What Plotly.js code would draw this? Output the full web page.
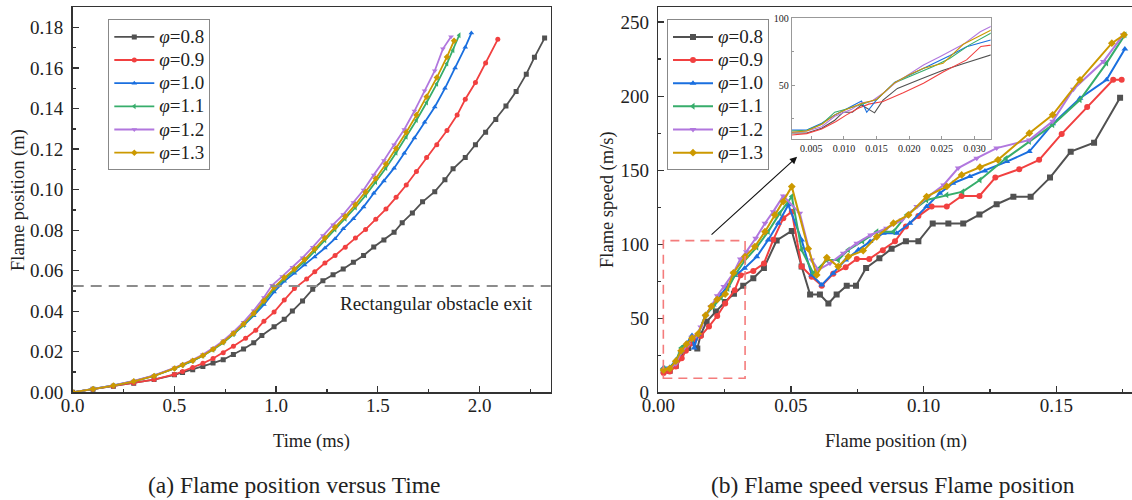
<!DOCTYPE html>
<html>
<head>
<meta charset="utf-8">
<script src="https://cdn.plot.ly/plotly-3.0.1.min.js"></script>
<style>
html,body{margin:0;padding:0;overflow:hidden;background:#fff;}
#chart{width:1140px;height:500px;}
</style>
</head>
<body>
<div id="chart"></div>
<script>
// ---------- data ----------
const seriesNames = ['<i>φ</i>=0.8','<i>φ</i>=0.9','<i>φ</i>=1.0','<i>φ</i>=1.1','<i>φ</i>=1.2','<i>φ</i>=1.3'];

// (a) flame position (m) vs time (ms)
const time08 = [0,0.1,0.2,0.3,0.4,0.5,0.54,0.59,0.64,0.69,0.74,0.79,0.84,0.89,0.93,0.99,1.04,1.08,1.13,1.18,1.23,1.28,1.33,1.38,1.43,1.48,1.53,1.58,1.62,1.67,1.72,1.78,1.83,1.87,1.93,1.98,2.03,2.08,2.13,2.18,2.23,2.27,2.32];
const pos08  = [0,0.0015,0.003,0.0045,0.0063,0.0086,0.0098,0.0111,0.0127,0.0144,0.0161,0.0186,0.0214,0.0244,0.028,0.0323,0.036,0.0401,0.0451,0.0509,0.055,0.058,0.0608,0.0642,0.0675,0.0717,0.0752,0.079,0.0837,0.0885,0.094,0.099,0.1049,0.1103,0.1159,0.1222,0.1283,0.1346,0.1413,0.1484,0.157,0.1653,0.1748];
const time09 = [0,0.1,0.2,0.3,0.4,0.5,0.54,0.59,0.64,0.69,0.74,0.79,0.85,0.9,0.94,0.99,1.04,1.09,1.15,1.19,1.24,1.29,1.34,1.39,1.44,1.49,1.54,1.59,1.64,1.69,1.74,1.79,1.84,1.89,1.93,1.98,2.03,2.09];
const pos09  = [0,0.0015,0.003,0.0046,0.0063,0.0088,0.0103,0.0122,0.0143,0.0167,0.0195,0.0227,0.0267,0.0306,0.0351,0.0396,0.0455,0.0512,0.0559,0.0595,0.0638,0.0675,0.0716,0.0761,0.0804,0.0854,0.0904,0.0962,0.1023,0.109,0.1159,0.1222,0.1292,0.1368,0.1446,0.1529,0.1625,0.1742];
const time10 = [0,0.1,0.2,0.3,0.4,0.5,0.54,0.59,0.64,0.69,0.74,0.79,0.84,0.89,0.94,0.99,1.04,1.09,1.14,1.19,1.24,1.29,1.33,1.38,1.43,1.48,1.53,1.58,1.63,1.68,1.73,1.78,1.83,1.88,1.93,1.96];
const pos10  = [0,0.0017,0.0034,0.0055,0.0082,0.0118,0.0135,0.0155,0.0182,0.0213,0.0248,0.0287,0.033,0.0378,0.0433,0.0495,0.0548,0.0588,0.0628,0.0668,0.0712,0.0758,0.0807,0.0857,0.0915,0.0982,0.1043,0.1106,0.118,0.1255,0.1333,0.1408,0.15,0.16,0.1703,0.1773];
const time11 = [0,0.1,0.2,0.3,0.4,0.5,0.54,0.59,0.64,0.69,0.74,0.79,0.84,0.89,0.94,0.99,1.04,1.09,1.14,1.19,1.24,1.29,1.34,1.39,1.44,1.49,1.54,1.59,1.64,1.69,1.74,1.79,1.84,1.87,1.9];
const pos11  = [0,0.0016,0.0033,0.0054,0.0081,0.0118,0.0134,0.0155,0.018,0.021,0.0245,0.0286,0.0332,0.0385,0.0446,0.051,0.0558,0.06,0.0645,0.0697,0.075,0.0803,0.0856,0.0912,0.0972,0.1037,0.1107,0.1182,0.126,0.1343,0.143,0.1522,0.1622,0.1688,0.1762];
const time12 = [0,0.1,0.2,0.3,0.4,0.5,0.54,0.59,0.64,0.69,0.74,0.79,0.84,0.89,0.94,0.98,1.03,1.08,1.13,1.18,1.23,1.28,1.33,1.38,1.43,1.48,1.53,1.58,1.63,1.68,1.73,1.78,1.82,1.86];
const pos12  = [0,0.0017,0.0034,0.0056,0.0084,0.0121,0.0138,0.016,0.0186,0.0218,0.0255,0.0298,0.0346,0.0403,0.0468,0.0528,0.0572,0.0617,0.0664,0.0716,0.0774,0.0827,0.0877,0.0937,0.0998,0.1073,0.1144,0.1222,0.1297,0.1388,0.1488,0.1587,0.1695,0.1755];
const time13 = [0,0.1,0.2,0.3,0.4,0.5,0.54,0.59,0.64,0.69,0.74,0.79,0.84,0.89,0.94,0.99,1.04,1.09,1.14,1.19,1.24,1.29,1.34,1.39,1.44,1.49,1.54,1.59,1.64,1.69,1.74,1.79,1.84,1.875];
const pos13  = [0,0.0016,0.0033,0.0054,0.0081,0.0118,0.0135,0.0156,0.0181,0.0212,0.0248,0.029,0.0337,0.039,0.0452,0.0518,0.0566,0.0608,0.0655,0.0707,0.0762,0.0815,0.0868,0.0926,0.0988,0.1055,0.1127,0.1203,0.1283,0.1368,0.1458,0.1553,0.1655,0.1735];

// (b) flame speed (m/s) vs flame position (m)
const fpos08 = [0.002,0.0043,0.0066,0.0086,0.0099,0.0113,0.0127,0.0147,0.016,0.0182,0.0217,0.0251,0.0285,0.032,0.0358,0.0398,0.0446,0.0503,0.054,0.0572,0.0609,0.0641,0.0672,0.071,0.0745,0.0783,0.0833,0.0879,0.0933,0.098,0.1034,0.1093,0.1149,0.121,0.1275,0.1338,0.1403,0.1476,0.1554,0.1642,0.174];
const spd08  = [14.5,14.5,18,24,30,30,35.4,29.5,39,47.7,54.5,61,66.5,72,77,84,102.5,109,85,66,66,60,66,72,72,84,90.5,97,102,102,114,114,114,120,127,132,132,145,162.5,168.5,199];
const fpos09 = [0.002,0.0043,0.0066,0.0088,0.0104,0.0122,0.0138,0.016,0.0191,0.0222,0.0252,0.0288,0.031,0.0358,0.0398,0.0433,0.0471,0.0503,0.054,0.0578,0.0616,0.0659,0.0706,0.0748,0.0795,0.0846,0.0892,0.0933,0.098,0.103,0.1087,0.1143,0.121,0.127,0.136,0.1435,0.152,0.1616,0.1714,0.1746];
const spd09  = [13,14,17.5,23,28,33,36,38,44.5,51.5,60,69,79,82,87,103,117.6,122,85,78,72,80,84.5,90,90,96,102,112,119,125.4,125.4,132.6,132.6,145,150.7,157,174.5,192.6,211,211];
const fpos10 = [0.002,0.0043,0.0066,0.0086,0.0106,0.0127,0.0135,0.015,0.0178,0.0207,0.0237,0.0262,0.0288,0.0325,0.0371,0.0414,0.0452,0.049,0.054,0.0578,0.0616,0.0659,0.0706,0.0754,0.0798,0.0848,0.0898,0.0948,0.1011,0.1061,0.111,0.1174,0.1231,0.1313,0.1398,0.1486,0.1589,0.1689,0.1758];
const spd10  = [16.7,16.7,21.7,27.9,32.9,38.3,29.9,39.1,52.3,59,65.7,72,78.8,83.8,91.6,102.9,114.2,126.6,102.9,79.3,72.5,80.4,89.4,96.2,101.8,107.4,107.4,114.2,125.4,134.5,141.2,145.7,149.5,155.8,162.6,181.3,198.6,211,231.8];
const fpos11 = [0.002,0.0043,0.0066,0.0086,0.0106,0.0127,0.015,0.0178,0.0207,0.0237,0.0262,0.0292,0.0325,0.0371,0.0414,0.0458,0.0503,0.054,0.0584,0.0635,0.0678,0.0716,0.077,0.0823,0.0886,0.0936,0.1011,0.1087,0.1147,0.1212,0.131,0.1398,0.1486,0.1589,0.1689,0.1758];
const spd11  = [16,16.5,21,30,32.5,36,39.5,52,58,64,70,80,88.8,98,108.5,121,132.2,96.2,80.4,89.4,89.4,96.2,102,108.5,108.5,119.8,129.9,133.3,135.5,143.4,158,169.3,180.6,197.5,222.3,241.4];
const fpos12 = [0.002,0.0043,0.0066,0.0086,0.0112,0.0127,0.0142,0.016,0.0178,0.0198,0.0222,0.0247,0.0283,0.0309,0.0332,0.0367,0.0402,0.0433,0.0471,0.0533,0.0578,0.0603,0.0647,0.0697,0.0748,0.08,0.086,0.0918,0.0974,0.1017,0.1075,0.113,0.12,0.1275,0.1398,0.1486,0.1564,0.1677,0.1752];
const spd12  = [14.8,16,19.2,27,32.1,37.1,38,44.1,51.5,58,65.2,71.4,80.6,90,95,104,114.2,122,132.6,121,89.4,82.6,87.2,93.9,100.7,106.3,110.8,116.4,125.4,132.2,140,151.4,158.1,164.9,170.4,183,204.7,223.4,241.4];
const fpos13 = [0.002,0.0043,0.0066,0.0086,0.0106,0.0127,0.015,0.0178,0.02,0.0222,0.0252,0.0283,0.0327,0.0364,0.0402,0.0439,0.0471,0.0503,0.0565,0.0597,0.0635,0.0678,0.0716,0.0772,0.0823,0.0886,0.0943,0.1011,0.1087,0.1143,0.1212,0.128,0.1398,0.1486,0.1589,0.1709,0.1755];
const spd13  = [15,16,21,28,32.5,36.5,39.5,52,58,62.7,66.4,80.6,91.6,98.4,108.5,119.8,128.8,138.9,97,79.3,91,84.9,91.6,95.7,105,114.2,119.8,132.2,139,146.8,152,157,175,187.4,211,235.8,241.4];

const obstacleExitY = 0.0525;              // rectangular obstacle exit (m)
const zoomBoxX = [0.0019, 0.0327];          // dashed region on panel (b)
const zoomBoxY = [9.5, 102.4];
const insetXRange = [0.002, 0.0325];
const insetYRange = [10, 100];
const arrowFrom = [0.0195, 105.6];
const arrowTo = [0.0523, 159];

const timeSeries = [time08,time09,time10,time11,time12,time13];
const posSeries  = [pos08,pos09,pos10,pos11,pos12,pos13];
const fposSeries = [fpos08,fpos09,fpos10,fpos11,fpos12,fpos13];
const spdSeries  = [spd08,spd09,spd10,spd11,spd12,spd13];

// ---------- style ----------
const colors  = ['#515151','#F14040','#1A6FDF','#37AD6B','#B177DE','#CC9900'];
const symbols = ['square','circle','triangle-up','triangle-left','triangle-down','diamond'];
const FONT = 'Times New Roman, Liberation Serif, serif';
const W = 1140, H = 500;
const px = v => v / W;
const py = v => (H - v) / H;
const legendLabel = s => '<span style="font-size:19px">' + s + '</span>';

const traces = [];
for (let i = 0; i < 6; i++) {
  traces.push({
    x: timeSeries[i], y: posSeries[i], xaxis: 'x', yaxis: 'y',
    type: 'scatter', mode: 'lines+markers', name: legendLabel(seriesNames[i]), legend: 'legend',
    line: {color: colors[i], width: 1.8},
    marker: {symbol: symbols[i], size: 5, color: colors[i]}
  });
}
for (let i = 0; i < 6; i++) {
  traces.push({
    x: fposSeries[i], y: spdSeries[i], xaxis: 'x2', yaxis: 'y2',
    type: 'scatter', mode: 'lines+markers', name: legendLabel(seriesNames[i]), legend: 'legend2',
    line: {color: colors[i], width: 2},
    marker: {symbol: symbols[i], size: 6, color: colors[i]}
  });
}
for (let i = 0; i < 6; i++) {
  traces.push({
    x: fposSeries[i], y: spdSeries[i], xaxis: 'x3', yaxis: 'y3',
    type: 'scatter', mode: 'lines', showlegend: false,
    line: {color: colors[i], width: 1.1}
  });
}

const axisBase = {
  showline: true, mirror: true, linecolor: '#333', linewidth: 1.6,
  ticks: 'inside', ticklen: 6, tickwidth: 1.3, tickcolor: '#333',
  showgrid: false, zeroline: false,
  tickfont: {family: FONT, size: 19, color: '#222'}
};

const legendBase = {
  xanchor: 'left', yanchor: 'top', bgcolor: '#fff',
  bordercolor: '#888', borderwidth: 1, itemwidth: 40,
  font: {family: FONT, size: 15.5, color: '#222'}, tracegroupgap: 0
};

const ann = (text, x, y, size, extra) => Object.assign({
  text: text, xref: 'paper', yref: 'paper', x: px(x), y: py(y),
  xanchor: 'center', yanchor: 'middle', showarrow: false,
  font: {family: FONT, size: size, color: '#222'}
}, extra || {});

const layout = {
  width: W, height: H,
  margin: {l: 0, r: 0, t: 0, b: 0},
  paper_bgcolor: '#fff', plot_bgcolor: '#fff',
  font: {family: FONT, color: '#222'},
  showlegend: true,
  xaxis: Object.assign({}, axisBase, {
    domain: [px(72.7), px(550.7)], anchor: 'y', range: [0, 2.35],
    dtick: 0.5, tick0: 0, tickformat: '.1f', ticklabelstandoff: -5,
    minor: {dtick: 0.25, ticks: 'inside', ticklen: 3, tickcolor: '#333'}
  }),
  yaxis: Object.assign({}, axisBase, {
    domain: [py(392.3), py(7.3)], anchor: 'x', range: [0, 0.19],
    dtick: 0.02, tick0: 0, tickformat: '.2f', ticklabelstandoff: 4,
    minor: {dtick: 0.01, ticks: 'inside', ticklen: 3, tickcolor: '#333'}
  }),
  xaxis2: Object.assign({}, axisBase, {
    domain: [px(658.3), px(1136)], anchor: 'y2', range: [0, 0.18],
    dtick: 0.05, tick0: 0, tickformat: '.2f', ticklabelstandoff: -5,
    minor: {dtick: 0.025, ticks: 'inside', ticklen: 3, tickcolor: '#333'}
  }),
  yaxis2: Object.assign({}, axisBase, {
    domain: [py(392.3), py(7.3)], anchor: 'x2', range: [0, 260],
    dtick: 50, tick0: 0, ticklabelstandoff: 4,
    minor: {dtick: 25, ticks: 'inside', ticklen: 3, tickcolor: '#333'}
  }),
  xaxis3: {
    domain: [px(791.7), px(990.7)], anchor: 'y3', range: insetXRange,
    showline: true, mirror: true, linecolor: '#999', linewidth: 1,
    ticks: 'inside', ticklen: 3, tickcolor: '#999', showgrid: false, zeroline: false,
    dtick: 0.005, tick0: 0, tickformat: '.3f',
    tickfont: {family: FONT, size: 10, color: '#222'}
  },
  yaxis3: {
    domain: [py(139), py(18.3)], anchor: 'x3', range: insetYRange,
    showline: true, mirror: true, linecolor: '#999', linewidth: 1,
    ticks: 'inside', ticklen: 3, tickcolor: '#999', showgrid: false, zeroline: false,
    dtick: 50, tick0: 0,
    minor: {dtick: 25, ticks: 'inside', ticklen: 2, tickcolor: '#999'},
    tickfont: {family: FONT, size: 10, color: '#222'}
  },
  legend: Object.assign({}, legendBase, {x: px(108.3), y: py(19.3)}),
  legend2: Object.assign({}, legendBase, {x: px(667), y: py(19.3)}),
  shapes: [
    {type: 'line', xref: 'x domain', yref: 'y', x0: 0, x1: 1, y0: obstacleExitY, y1: obstacleExitY,
     line: {color: '#8c8c8c', width: 2, dash: '11px,7px'}},
    {type: 'rect', xref: 'x2', yref: 'y2', x0: zoomBoxX[0], x1: zoomBoxX[1], y0: zoomBoxY[0], y1: zoomBoxY[1],
     line: {color: '#F47C7C', width: 1.6, dash: '9px,6px'}}
  ],
  annotations: [
    ann('Rectangular obstacle exit', 436, 303, 19),
    ann('Time (ms)', 311.6, 441.7, 18.5),
    ann('Flame position (m)', 896, 441.7, 18.5),
    ann('Flame position (m)', 18, 200, 18.5, {textangle: -90}),
    ann('Flame speed (m/s)', 607, 200, 18.5, {textangle: -90}),
    ann('(a) Flame position versus Time', 293.8, 485, 23.5),
    ann('(b) Flame speed versus Flame position', 893, 485, 23.5),
    {text: '', xref: 'x2', yref: 'y2', x: arrowTo[0], y: arrowTo[1],
     axref: 'x2', ayref: 'y2', ax: arrowFrom[0], ay: arrowFrom[1],
     showarrow: true, arrowhead: 2, arrowsize: 1.3, arrowwidth: 1.1, arrowcolor: '#111'}
  ]
};

Plotly.newPlot('chart', traces, layout, {displayModeBar: false, staticPlot: true});
</script>
</body>
</html>
